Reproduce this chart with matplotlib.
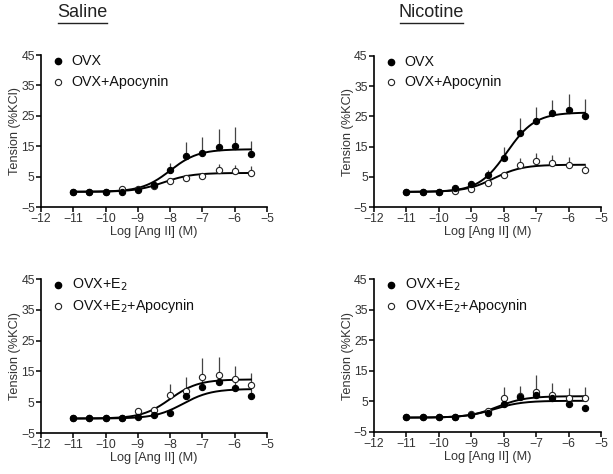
import numpy as np
import matplotlib
matplotlib.use("Agg")
import matplotlib.pyplot as plt
from matplotlib.lines import Line2D

plt.rcParams['font.family'] = ['Liberation Sans', 'DejaVu Sans']

# ---- data ----
log_ang = [-11, -10.5, -10, -9.5, -9, -8.5, -8, -7.5, -7, -6.5, -6, -5.5]

sal_ovx = [0.0, 0.0, 0.0, 0.0, 0.5, 2.4, 7.3, 11.7, 12.6, 14.6, 15.1, 12.5]
sal_ovx_err = [0.2, 0.2, 0.2, 0.3, 0.4, 0.8, 2.2, 4.7, 5.5, 6.2, 6.3, 4.2]
sal_apo = [0.0, 0.0, 0.0, 0.8, 1.0, 2.0, 3.5, 4.6, 5.1, 7.1, 6.9, 6.2]
sal_apo_err = [0.1, 0.1, 0.1, 0.3, 0.3, 0.5, 0.8, 1.0, 1.2, 2.2, 1.9, 2.3]

nic_ovx = [0.0, 0.0, 0.0, 1.2, 2.7, 5.5, 11.3, 19.4, 23.5, 26.1, 27.0, 25.1]
nic_ovx_err = [0.2, 0.2, 0.2, 0.4, 0.7, 1.6, 3.6, 5.1, 4.6, 4.4, 5.5, 5.8]
nic_apo = [0.0, 0.0, 0.0, 0.2, 1.1, 2.9, 5.5, 8.9, 10.2, 9.6, 9.0, 7.4]
nic_apo_err = [0.1, 0.1, 0.1, 0.2, 0.4, 0.8, 1.2, 2.2, 2.7, 2.6, 2.6, 1.5]

e2_sal = [0.0, 0.0, 0.0, 0.0, 0.2, 0.9, 1.5, 7.0, 9.9, 11.4, 9.5, 7.0]
e2_sal_err = [0.1, 0.1, 0.1, 0.1, 0.3, 0.4, 0.6, 2.0, 2.5, 2.8, 2.5, 2.2]
e2apo_sal = [0.0, 0.0, 0.0, 0.0, 2.3, 2.4, 7.3, 8.6, 13.3, 13.8, 12.4, 10.5]
e2apo_sal_err = [0.1, 0.1, 0.1, 0.2, 0.5, 0.8, 3.5, 4.7, 5.9, 6.0, 4.3, 4.0]

e2_nic = [0.0, 0.0, 0.0, 0.0, 0.5, 1.2, 4.0, 6.5, 7.2, 6.0, 4.1, 2.8]
e2_nic_err = [0.1, 0.1, 0.1, 0.1, 0.3, 0.4, 1.0, 1.5, 2.0, 1.6, 1.2, 1.0]
e2apo_nic = [0.0, 0.0, 0.0, 0.0, 1.0, 2.0, 6.2, 6.8, 8.1, 7.1, 6.2, 6.2]
e2apo_nic_err = [0.1, 0.1, 0.1, 0.1, 0.4, 0.6, 3.4, 3.1, 5.6, 3.9, 3.2, 3.4]

# Hill fit parameters: (bottom, top, logEC50, hill)
fit_sal_ovx = (0.0, 14.0, -8.0, 1.0)
fit_sal_apo = (0.0, 6.2, -8.2, 1.0)
fit_nic_ovx = (0.0, 26.3, -7.9, 1.0)
fit_nic_apo = (0.0, 9.0, -8.3, 1.0)
fit_e2_sal = (-0.3, 9.3, -7.6, 1.0)
fit_e2apo_sal = (-0.3, 12.4, -8.0, 1.0)
fit_e2_nic = (-0.3, 5.2, -8.3, 1.0)
fit_e2apo_nic = (-0.3, 6.7, -8.2, 1.0)

xticks = [-12, -11, -10, -9, -8, -7, -6, -5]
yticks = [-5, 5, 15, 25, 35, 45]


def hill(x, p):
    b, t, ec, h = p
    return b + (t - b) / (1 + 10 ** ((ec - x) * h))


fig = plt.figure(figsize=(6.13, 4.74), dpi=100)
W, H = 613, 474


def axes_px(x0, x1, y0, y1):
    return fig.add_axes([x0 / W, 1 - y1 / H, (x1 - x0) / W, (y1 - y0) / H])


panels = [
    (axes_px(41, 267, 55, 207), sal_ovx, sal_ovx_err, sal_apo, sal_apo_err,
     fit_sal_ovx, fit_sal_apo, "OVX", "OVX+Apocynin"),
    (axes_px(374, 601, 56, 207), nic_ovx, nic_ovx_err, nic_apo, nic_apo_err,
     fit_nic_ovx, fit_nic_apo, "OVX", "OVX+Apocynin"),
    (axes_px(41, 267, 279, 433), e2_sal, e2_sal_err, e2apo_sal, e2apo_sal_err,
     fit_e2_sal, fit_e2apo_sal, "OVX+E$_2$", "OVX+E$_2$+Apocynin"),
    (axes_px(374, 601, 279, 432), e2_nic, e2_nic_err, e2apo_nic, e2apo_nic_err,
     fit_e2_nic, fit_e2apo_nic, "OVX+E$_2$", "OVX+E$_2$+Apocynin"),
]

xs = np.linspace(-11, -5.5, 200)
tick_col = '#333333'

for ax, y1, e1, y2, e2, f1, f2, l1, l2 in panels:
    for s in ['top', 'right']:
        ax.spines[s].set_visible(False)
    for s in ['left', 'bottom']:
        ax.spines[s].set_linewidth(1.2)
    ax.set_xlim(-12, -5)
    ax.set_ylim(-5, 45)
    ax.set_xticks(xticks)
    ax.set_yticks(yticks)
    ax.tick_params(direction='out', length=3.5, width=1.1, labelsize=8.8,
                   labelcolor=tick_col, pad=1)
    ax.set_xlabel("Log [Ang II] (M)", fontsize=9.2, color=tick_col, labelpad=0.5)
    ax.set_ylabel("Tension (%KCl)", fontsize=9.2, color=tick_col, labelpad=0)

    ax.errorbar(log_ang, y2, yerr=[np.zeros(len(e2)), e2], fmt='none',
                ecolor='#444444', elinewidth=0.9, capsize=0, zorder=2)
    ax.errorbar(log_ang, y1, yerr=[np.zeros(len(e1)), e1], fmt='none',
                ecolor='#444444', elinewidth=0.9, capsize=0, zorder=2)
    ax.plot(xs, hill(xs, f1), color='black', lw=1.4, zorder=3)
    ax.plot(xs, hill(xs, f2), color='black', lw=1.4, zorder=3)
    ax.plot(log_ang, y2, 'o', ms=4.5, mfc='white', mec='#222222', mew=0.8, zorder=4)
    ax.plot(log_ang, y1, 'o', ms=4.5, mfc='black', mec='black', mew=0.8, zorder=5)

    # legend
    ax.plot([0.076], [0.96], 'o', ms=4.5, mfc='black', mec='black',
            transform=ax.transAxes, clip_on=False)
    ax.plot([0.076], [0.825], 'o', ms=4.5, mfc='white', mec='#222222', mew=0.8,
            transform=ax.transAxes, clip_on=False)
    ax.text(0.135, 0.96, l1, transform=ax.transAxes, fontsize=10.3, va='center',
            ha='left', color='#111111')
    ax.text(0.135, 0.825, l2, transform=ax.transAxes, fontsize=10.3, va='center',
            ha='left', color='#111111')

# titles with underline
for txt, cx, x0, x1 in [("Saline", 82.5, 58, 107), ("Nicotine", 431.5, 400, 463)]:
    fig.text(cx / W, 1 - 12.5 / H, txt, fontsize=13, ha='center', va='center',
             color='#222222')
    fig.add_artist(Line2D([x0 / W, x1 / W], [1 - 22.7 / H, 1 - 22.7 / H],
                          color='#222222', lw=1.0))

fig.savefig("out.png", dpi=100)
